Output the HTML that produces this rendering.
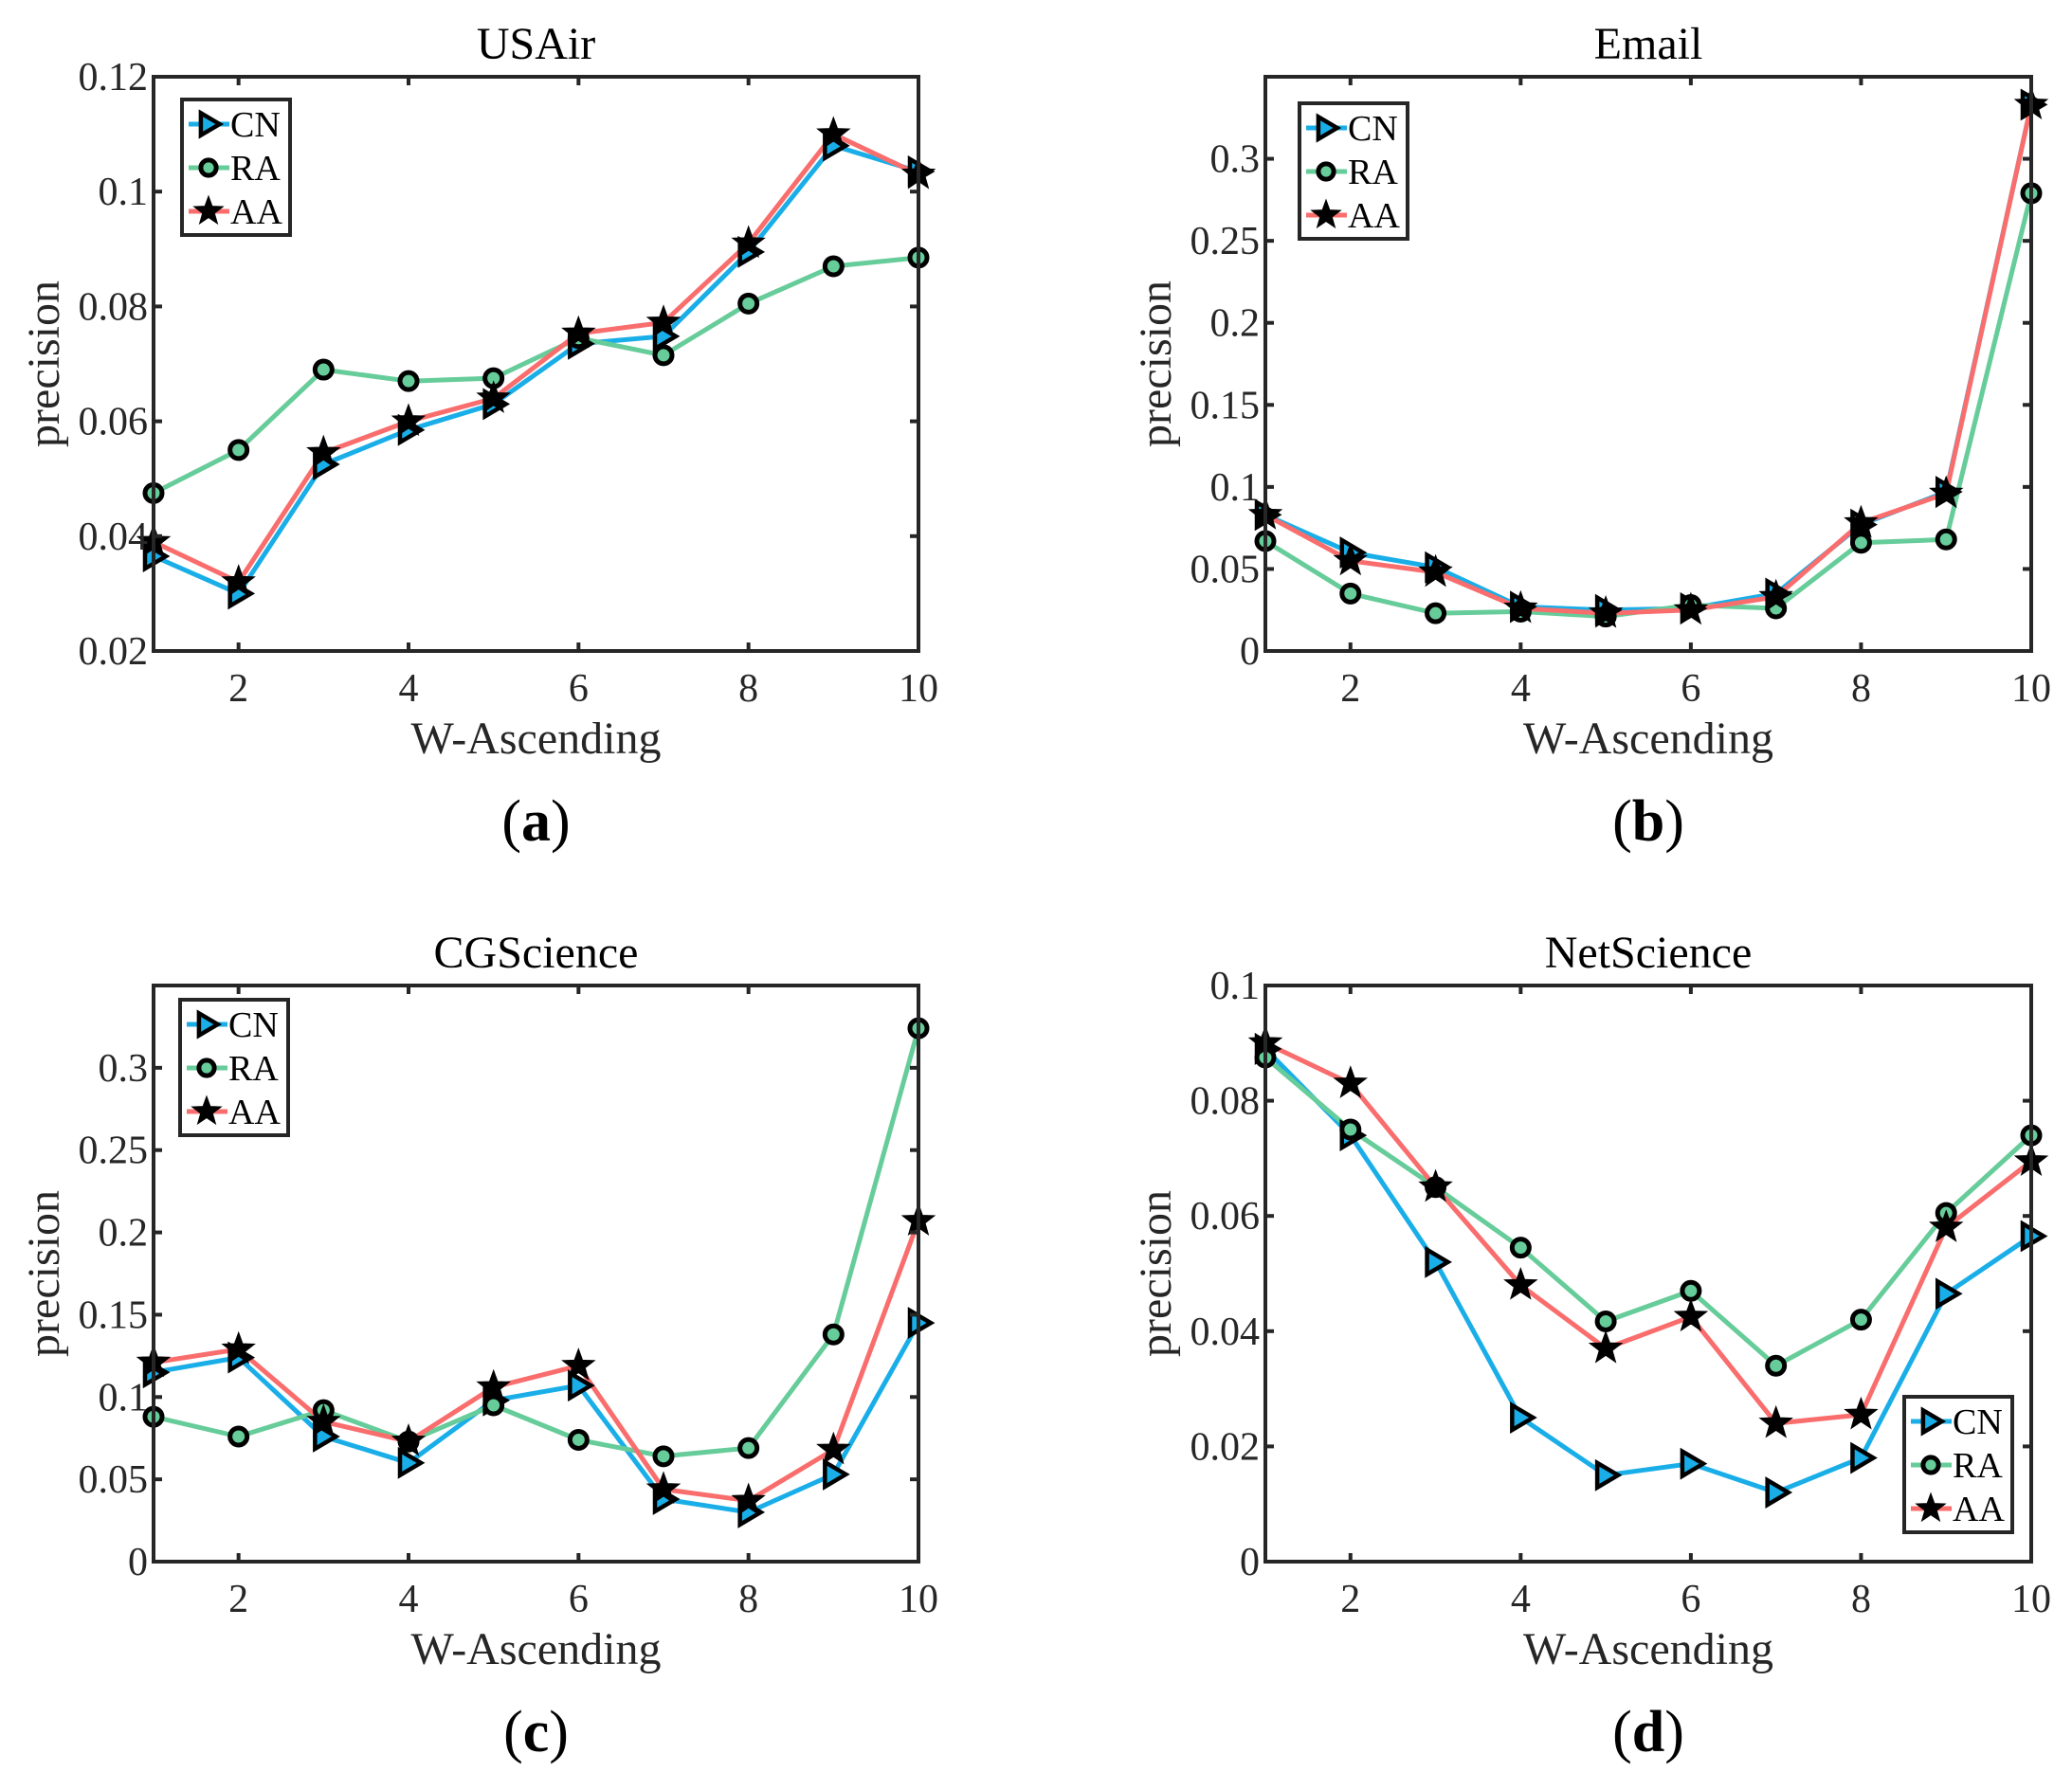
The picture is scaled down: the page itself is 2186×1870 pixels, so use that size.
<!DOCTYPE html>
<html><head><meta charset="utf-8"><style>
html,body{margin:0;padding:0;background:#fff;}
svg{display:block;font-family:"Liberation Serif",serif;}
</style></head><body>
<svg id="fig" width="2186" height="1870" viewBox="0 0 2186 1870" xmlns="http://www.w3.org/2000/svg"></svg>
<script>
const xCats=[1,2,3,4,5,6,7,8,9,10];
const xTickVals=[2,4,6,8,10];
const usairCN=[0.0365,0.030,0.0525,0.0585,0.063,0.0735,0.0748,0.0895,0.108,0.1035];
const usairRA=[0.0475,0.055,0.069,0.067,0.0675,0.0745,0.0715,0.0805,0.087,0.0885];
const usairAA=[0.039,0.032,0.0545,0.060,0.064,0.0753,0.0772,0.091,0.110,0.103];
const emailCN=[0.083,0.060,0.051,0.027,0.025,0.026,0.035,0.077,0.097,0.333];
const emailRA=[0.067,0.035,0.023,0.024,0.021,0.028,0.026,0.066,0.068,0.279];
const emailAA=[0.083,0.055,0.048,0.026,0.023,0.025,0.033,0.078,0.096,0.333];
const cgCN=[0.115,0.124,0.076,0.060,0.098,0.107,0.038,0.030,0.053,0.145];
const cgRA=[0.088,0.076,0.092,0.073,0.095,0.074,0.064,0.069,0.138,0.324];
const cgAA=[0.121,0.129,0.085,0.073,0.106,0.119,0.044,0.037,0.068,0.207];
const netCN=[0.089,0.074,0.052,0.025,0.015,0.017,0.012,0.018,0.0465,0.0565];
const netRA=[0.0875,0.075,0.065,0.0545,0.0417,0.047,0.034,0.042,0.0605,0.074];
const netAA=[0.090,0.083,0.065,0.048,0.037,0.0425,0.024,0.0255,0.058,0.0695];
const ticksA=[0.02,0.04,0.06,0.08,0.1,0.12];
const labelsA=["0.02","0.04","0.06","0.08","0.1","0.12"];
const ticksB=[0,0.05,0.1,0.15,0.2,0.25,0.3];
const labelsB=["0","0.05","0.1","0.15","0.2","0.25","0.3"];
const ticksD=[0,0.02,0.04,0.06,0.08,0.1];
const labelsD=["0","0.02","0.04","0.06","0.08","0.1"];
const seriesNames=["CN","RA","AA"];

const NS="http://www.w3.org/2000/svg";
const svg=document.getElementById('fig');
const COL={CN:"#1aaee8",RA:"#66cc99",AA:"#f96d6d"};
function mk(tag,attrs,parent){const e=document.createElementNS(NS,tag);for(const k in attrs)e.setAttribute(k,attrs[k]);(parent||svg).appendChild(e);return e;}
function marker(g,name,x,y,s){
  let e;
  if(name==="CN"){e=mk('polygon',{points:`${x-9*s},${y-13*s} ${x+13*s},${y} ${x-9*s},${y+13*s}`,fill:COL.CN,stroke:"#000","stroke-width":4.5,"stroke-linejoin":"miter"},g);}
  else if(name==="RA"){e=mk('circle',{cx:x,cy:y,r:9*s,fill:COL.RA,stroke:"#000","stroke-width":5},g);}
  else{let p=[];for(let i=0;i<10;i++){const r=i%2?7*s:17*s;const a=-Math.PI/2+i*Math.PI/5;p.push((x+r*Math.cos(a)).toFixed(1)+","+(y+r*Math.sin(a)).toFixed(1));}
    e=mk('polygon',{points:p.join(" "),fill:"#000",stroke:"#000","stroke-width":1.5},g);}
  return e;
}
function panel(cfg){
  const g=mk('g',{});
  
  
  const {L,R,T,B,ymin,ymax}=cfg;
  const xs=v=>L+(v-1)/(10-1)*(R-L);
  const ys=v=>B-(v-ymin)/(ymax-ymin)*(B-T);
  mk('rect',{x:L,y:T,width:R-L,height:B-T,fill:"#fff"},g);
  const data=cfg.data;
  seriesNames.forEach((n,si)=>{
    const pts=xCats.map((c,i)=>xs(c).toFixed(1)+","+ys(data[si][i]).toFixed(1)).join(" ");
    const pl=mk('polyline',{points:pts,fill:"none",stroke:COL[n],"stroke-width":5,"stroke-linejoin":"round"},g);
    
    
  });
  seriesNames.forEach((n,si)=>{
    xCats.forEach((c,i)=>{
      const m=marker(g,n,xs(c),ys(data[si][i]),1);
      
      
    });
  });
  const box=mk('rect',{x:L,y:T,width:R-L,height:B-T,fill:"none",stroke:"#262626","stroke-width":4},g);
  
  
  xTickVals.forEach(v=>{
    const x=xs(v);
    mk('line',{x1:x,y1:B,x2:x,y2:B-9,stroke:"#262626","stroke-width":4},g);
    mk('line',{x1:x,y1:T,x2:x,y2:T+9,stroke:"#262626","stroke-width":4},g);
    const t=mk('text',{x:x,y:B+53,"font-size":42,"text-anchor":"middle",fill:"#262626"},g);
    t.textContent=String(v);
    
    
  });
  cfg.ticks.forEach((v,i)=>{
    const y=ys(v);
    mk('line',{x1:L,y1:y,x2:L+9,y2:y,stroke:"#262626","stroke-width":4},g);
    mk('line',{x1:R,y1:y,x2:R-9,y2:y,stroke:"#262626","stroke-width":4},g);
    const t=mk('text',{x:L-6,y:y+14,"font-size":42,"text-anchor":"end",fill:"#262626"},g);
    t.textContent=cfg.labels[i];
    
    
  });
  const tt=mk('text',{x:(L+R)/2,y:T-19,"font-size":48,"text-anchor":"middle",fill:"#000"},g);
  tt.textContent=cfg.title;
  
  
  const xl=mk('text',{x:(L+R)/2,y:B+108,"font-size":48,"text-anchor":"middle",fill:"#262626"},g);
  xl.textContent="W-Ascending";
  
  
  const yl=mk('text',{x:0,y:0,"font-size":48,"text-anchor":"middle",fill:"#262626",transform:`translate(${L-100},${(T+B)/2}) rotate(-90)`},g);
  yl.textContent="precision";
  
  
  const cap=mk('text',{x:(L+R)/2,y:B+200,"font-size":62,"text-anchor":"middle",fill:"#000"},g);
  const t1=mk('tspan',{},cap);t1.textContent="(";
  const t2=mk('tspan',{"font-weight":"bold"},cap);t2.textContent=cfg.cap;
  const t3=mk('tspan',{},cap);t3.textContent=")";
  
  
  const lg=mk('g',{},g);
  
  
  const lx=cfg.lx,ly=cfg.ly;
  mk('rect',{x:lx,y:ly,width:114,height:143,fill:"#fff",stroke:"#262626","stroke-width":4},lg);
  seriesNames.forEach((n,i)=>{
    const cy=ly+26+i*46;
    const e=mk('g',{},lg);
    
    
    mk('line',{x1:lx+7,y1:cy,x2:lx+50,y2:cy,stroke:COL[n],"stroke-width":5},e);
    marker(e,n,lx+28,cy,0.9);
    const t=mk('text',{x:lx+51,y:cy+13,"font-size":38,fill:"#000"},e);
    t.textContent=n;
  });
}
panel({id:"usair",title:"USAir",cap:"a",L:162,R:969,T:81,B:687,ymin:0.02,ymax:0.12,ticks:ticksA,labels:labelsA,data:[usairCN,usairRA,usairAA],lx:192,ly:105});
panel({id:"email",title:"Email",cap:"b",L:1335,R:2143,T:81,B:687,ymin:0,ymax:0.35,ticks:ticksB,labels:labelsB,data:[emailCN,emailRA,emailAA],lx:1371,ly:109});
panel({id:"cgscience",title:"CGScience",cap:"c",L:162,R:969,T:1040,B:1648,ymin:0,ymax:0.35,ticks:ticksB,labels:labelsB,data:[cgCN,cgRA,cgAA],lx:190,ly:1055});
panel({id:"netscience",title:"NetScience",cap:"d",L:1335,R:2143,T:1040,B:1648,ymin:0,ymax:0.1,ticks:ticksD,labels:labelsD,data:[netCN,netRA,netAA],lx:2009,ly:1474});
</script>
</body></html>
